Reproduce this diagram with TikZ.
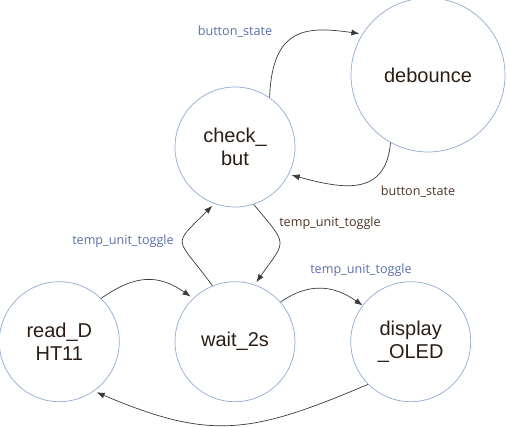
\documentclass[tikz,border=0pt]{standalone}
\usepackage{fontspec}
\setmainfont{Liberation Sans}
\newfontfamily\labelfont{Open Sans}
\usepackage{xcolor}
\usetikzlibrary{arrows.meta,positioning}
\definecolor{ring}{HTML}{8FAAD3}
\definecolor{ink}{HTML}{2B1D14}
\definecolor{wire}{HTML}{3A3A3A}
\definecolor{bluelbl}{HTML}{5A6EA8}
\definecolor{brownlbl}{HTML}{4D3323}
\tikzset{
  fsm/.style={circle,draw=ring,line width=0.7pt,minimum size=120pt,inner sep=0pt,
    align=center,text=ink,font=\fontsize{20}{23}\selectfont},
  trans/.style={-{Latex[length=8pt,width=6pt]},draw=wire,line width=0.7pt,shorten >=3pt},
  tag/.style={font=\labelfont\fontsize{12.6}{14}\selectfont,inner sep=0pt}
}

\begin{document}
\begin{tikzpicture}[x=1pt,y=1pt]
\useasboundingbox (0,0) rectangle (510,426);
\node[fsm] (check) at (235,279) {check\_\\but};
\node[fsm,minimum size=154pt] (debounce) at (428,351) {debounce};
\node[fsm,below=74pt of check] (wait) {wait\_2s};
\node[fsm,left=55pt of wait] (read) {read\_D\\HT11};
\node[fsm,right=55pt of wait] (display) {display\\\_OLED};
% transition labels
\node[tag,text=bluelbl] (tbtn1) at (235,394) {button\_state};
\node[tag,text=brownlbl] (tbtn2) at (418,234) {button\_state};
\node[tag,text=brownlbl] (ttog1) at (330,203) {temp\_unit\_toggle};
\node[tag,text=bluelbl] (ttog2) at (123,185) {temp\_unit\_toggle};
\node[tag,text=bluelbl] (ttog3) at (361,156) {temp\_unit\_toggle};
% transitions
\draw[trans] (check.55) .. controls +(88:72) and +(172:55) .. (debounce.148);
\draw[trans] (debounce.241) .. controls +(265:55) and +(345:55) .. (check.333);
\draw[trans] (check.288) .. controls +(310:55) and +(55:55) .. (wait.71);
\draw[trans] (wait.112) .. controls +(126:62) and +(225:62) .. (check.250);
\draw[trans] (read.46) .. controls +(35:42) and +(145:42) .. (wait.134);
\draw[trans,shorten >=0pt] (wait.41) .. controls +(35:35) and +(145:35) .. (display.143);
\draw[trans] (display.225) .. controls +(203:127) and +(337:127) .. (read.305);
\end{tikzpicture}
\end{document}
